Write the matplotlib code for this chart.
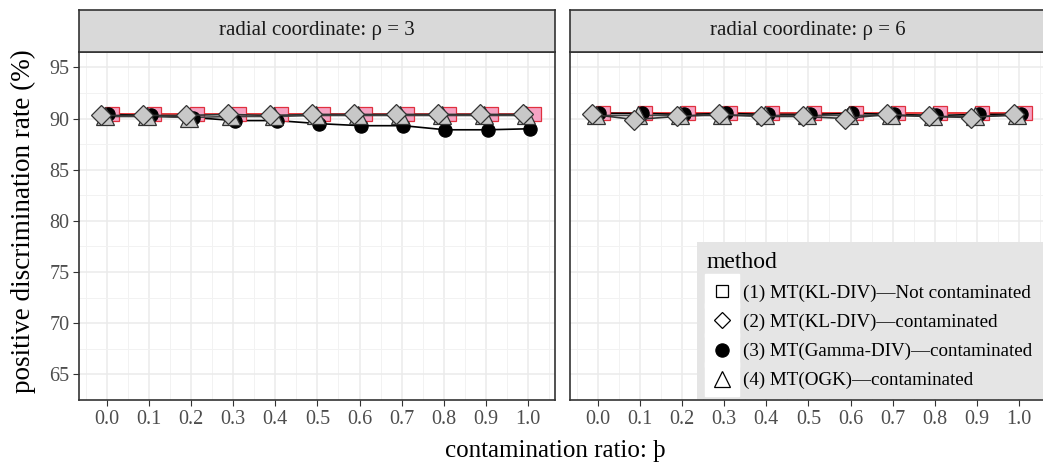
#!/usr/bin/env python3
import matplotlib
matplotlib.use("Agg")
import matplotlib.pyplot as plt
from matplotlib.lines import Line2D
from matplotlib.legend_handler import HandlerTuple
import numpy as np

plt.rcParams['font.family'] = ['Liberation Serif', 'DejaVu Serif']

# contamination ratio on the x axis
ratios = [0.0, 0.1, 0.2, 0.3, 0.4, 0.5, 0.6, 0.7, 0.8, 0.9, 1.0]

# radial coordinate rho = 3
m1_r3 = [90.4, 90.4, 90.4, 90.4, 90.4, 90.4, 90.4, 90.4, 90.4, 90.4, 90.4]
m2_r3 = [90.3, 90.3, 90.3, 90.4, 90.3, 90.4, 90.4, 90.4, 90.4, 90.4, 90.4]
m3_r3 = [90.4, 90.3, 90.1, 89.8, 89.8, 89.5, 89.3, 89.3, 88.9, 88.9, 89.0]
m4_r3 = [90.2, 90.2, 90.1, 90.2, 90.2, 90.3, 90.3, 90.3, 90.3, 90.3, 90.3]

# radial coordinate rho = 6
m1_r6 = [90.5, 90.5, 90.5, 90.5, 90.5, 90.5, 90.5, 90.5, 90.5, 90.5, 90.5]
m2_r6 = [90.4, 89.9, 90.2, 90.4, 90.2, 90.2, 90.0, 90.4, 90.2, 90.1, 90.4]
m3_r6 = [90.5, 90.5, 90.4, 90.5, 90.4, 90.4, 90.5, 90.4, 90.3, 90.4, 90.4]
m4_r6 = [90.3, 90.3, 90.3, 90.3, 90.3, 90.3, 90.3, 90.3, 90.2, 90.2, 90.3]

panels = [("radial coordinate: \u03c1 = 3", [m1_r3, m2_r3, m3_r3, m4_r3]),
          ("radial coordinate: \u03c1 = 6", [m1_r6, m2_r6, m3_r6, m4_r6])]

labels = ["(1) MT(KL-DIV)\u2014Not contaminated",
          "(2) MT(KL-DIV)\u2014contaminated",
          "(3) MT(Gamma-DIV)\u2014contaminated",
          "(4) MT(OGK)\u2014contaminated"]

# style per method: marker, size, face, edge, line colour, dodge, zorder
styles = [
    dict(marker='s', ms=10.5, mfc='#F5A3C3', mec='#E0303F', lc='#E41A1C', dx=0.013, z=3, lms=9),
    dict(marker='D', ms=10.0, mfc='#C8C8C8', mec='#333333', lc='#333333', dx=-0.013, z=6, lms=8.5),
    dict(marker='o', ms=9.5, mfc='black', mec='black', lc='black', dx=0.004, z=4, lms=9.5),
    dict(marker='^', ms=12.5, mfc='#C8C8C8', mec='#333333', lc='#444444', dx=-0.004, z=5, lms=12),
]

fig = plt.figure(figsize=(10.43, 4.66), dpi=100)
W, H = 1043.0, 466.0
lefts = [79, 570]
pw = 476
bottom, top = 400, 52

axes = []
for (title, series), x0 in zip(panels, lefts):
    ax = fig.add_axes([x0 / W, 1 - bottom / H, pw / W, (bottom - top) / H])
    axes.append(ax)
    ax.set_facecolor('white')
    for s, vals in zip(styles, series):
        xs = np.array(ratios) + s['dx']
        ax.plot(xs, vals, color=s['lc'], lw=1.2, zorder=s['z'] - 1)
    for s, vals in zip(styles, series):
        xs = np.array(ratios) + s['dx']
        ax.plot(xs, vals, ls='none', marker=s['marker'], ms=s['ms'],
                mfc=s['mfc'], mec=s['mec'], mew=0.9, zorder=s['z'])
    ax.set_xlim(-0.066, 1.064)
    ax.set_ylim(63.5, 96.5)
    ax.set_xticks(ratios)
    ax.set_xticklabels(["%.1f" % r for r in ratios])
    ax.set_xticks(np.arange(-0.05, 1.06, 0.1), minor=True)
    ax.set_yticks([65, 70, 75, 80, 85, 90, 95])
    ax.set_yticks(np.arange(62.5, 97, 5), minor=True)
    ax.grid(which='major', color='#EBEBEB', lw=1.1, zorder=0)
    ax.grid(which='minor', color='#F2F2F2', lw=0.7, zorder=0)
    ax.set_axisbelow(True)
    for sp in ax.spines.values():
        sp.set_color('#333333')
        sp.set_linewidth(1.2)
    ax.tick_params(which='major', length=4, color='#333333', labelsize=14.5,
                   labelcolor='#4D4D4D', pad=3)
    ax.tick_params(which='minor', length=0)

    # facet strip
    sax = fig.add_axes([x0 / W, 1 - top / H, pw / W, 42 / H])
    sax.set_facecolor('#D9D9D9')
    sax.set_xticks([])
    sax.set_yticks([])
    for sp in sax.spines.values():
        sp.set_color('#333333')
        sp.set_linewidth(1.2)
    sax.text(0.5, 0.5, title, ha='center', va='center', fontsize=15,
             color='#1A1A1A', transform=sax.transAxes)

axes[1].tick_params(axis='y', labelleft=False, length=0)

axes[0].set_ylabel("positive discrimination rate (%)", fontsize=19.5)
axes[0].yaxis.set_label_coords(-0.09, 0.515)
fig.text(555 / W, 1 - 451 / H, "contamination ratio: \u00fe", ha='center',
         va='center', fontsize=18)

# legend: open shapes on a white key background
handles = []
for s in styles:
    bg = Line2D([], [], ls='none', marker='s', ms=25, mfc='white', mec='white')
    face = 'black' if s['marker'] == 'o' else 'white'
    fg = Line2D([], [], ls='none', marker=s['marker'], ms=s['lms'], mfc=face,
                mec='black', mew=0.9)
    handles.append((bg, fg))

leg = axes[1].legend(handles, labels, title="method",
                     handler_map={tuple: HandlerTuple(ndivide=1, pad=0)},
                     loc='lower left',
                     bbox_to_anchor=(697 / W, 1 - 399 / H, 360 / W, 0),
                     bbox_transform=fig.transFigure, mode='expand',
                     fontsize=13.7, title_fontsize=17, frameon=True,
                     fancybox=False, handlelength=1.6, handletextpad=0.3,
                     labelspacing=0.62, borderpad=0.5, borderaxespad=0)
leg._legend_box.align = "left"
leg.get_frame().set_facecolor('#E5E5E5')
leg.get_frame().set_edgecolor('none')
leg.get_frame().set_alpha(1)
leg.set_zorder(10)

fig.savefig("out.png", dpi=100)
